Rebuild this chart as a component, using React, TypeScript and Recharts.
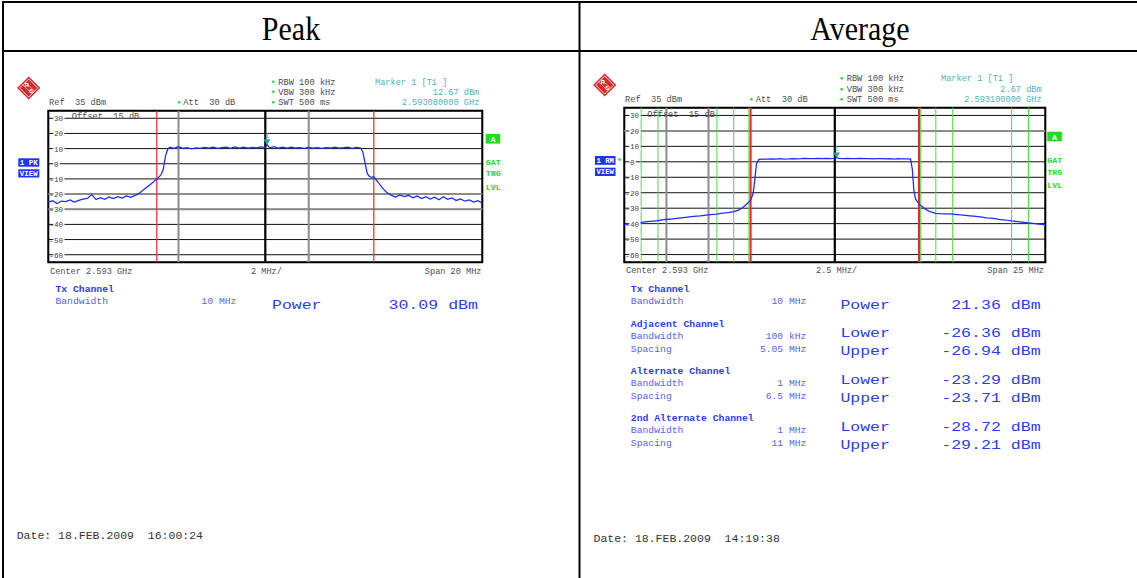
import {
  LineChart,
  Line,
  XAxis,
  YAxis,
  CartesianGrid,
  ReferenceLine,
  ReferenceArea,
  ReferenceDot
} from 'recharts'

// Peak trace: offset from 2.593 GHz in MHz, level in dBm
const peakFreq = [
  -10, -9.8, -9.6, -9.4, -9.2, -9, -8.8, -8.6, -8.4, -8.2, -8, -7.8, -7.6, -7.4, -7.2, -7, -6.8, -6.6, -6.4, -6.2,
  -6, -5.8, -5.6, -5.4, -5.2, -5, -4.8, -4.7, -4.6, -4.5, -4.4, -4.2, -4, -3.8, -3.6, -3.4, -3.2, -3, -2.8, -2.6,
  -2.4, -2.2, -2, -1.8, -1.6, -1.4, -1.2, -1, -0.8, -0.6, -0.4, -0.2, 0, 0.08, 0.2, 0.4, 0.6, 0.8, 1, 1.2,
  1.4, 1.6, 1.8, 2, 2.2, 2.4, 2.6, 2.8, 3, 3.2, 3.4, 3.6, 3.8, 4, 4.2, 4.4, 4.5, 4.6, 4.7, 4.8,
  4.9, 5, 5.2, 5.4, 5.6, 5.8, 6, 6.2, 6.4, 6.6, 6.8, 7, 7.2, 7.4, 7.6, 7.8, 8, 8.2, 8.4, 8.6,
  8.8, 9, 9.2, 9.4, 9.6, 9.8, 10
]
const peakLevel = [
  -25.3, -24.4, -26.2, -24.6, -25.0, -23.9, -25.2, -24.1, -23.3, -22.9, -20.3, -23.6, -22.3, -23.4, -21.9, -23.0, -21.7, -22.6, -21.2, -22.1,
  -20.9, -19.4, -17.0, -14.8, -12.6, -10.1, -7.2, -3.5, 5.0, 9.6, 10.9, 10.1, 11.3, 10.2, 10.7, 9.9, 10.5, 10.1, 10.8, 10.3,
  11.0, 10.2, 10.6, 10.9, 10.1, 11.1, 10.4, 11.0, 10.3, 10.8, 10.5, 11.2, 10.7, 12.67, 10.5, 11.3, 10.4, 10.9, 10.3, 11.0,
  10.4, 10.7, 10.2, 10.8, 10.3, 10.6, 10.1, 10.7, 10.4, 10.9, 10.3, 10.6, 11.0, 10.2, 10.8, 10.4, 7.5, 0.5, -6.5, -8.4,
  -8.9, -8.6, -12.2, -16.1, -19.0, -20.7, -21.9, -20.5, -21.7, -20.8, -22.4, -21.3, -23.0, -21.7, -23.3, -22.0, -23.7, -21.8, -23.5, -22.5,
  -24.2, -23.2, -24.7, -23.9, -25.3, -24.4, -26.1
]

// RMS average trace
const avgFreq = [
  -12.5, -12.25, -12, -11.75, -11.5, -11.25, -11, -10.75, -10.5, -10.25, -10, -9.75, -9.5, -9.25, -9, -8.75, -8.5, -8.25, -8, -7.75,
  -7.5, -7.25, -7, -6.75, -6.5, -6.25, -6, -5.75, -5.5, -5.25, -5, -4.85, -4.75, -4.65, -4.5, -4.25, -4, -3.75, -3.5, -3.25,
  -3, -2.75, -2.5, -2.25, -2, -1.75, -1.5, -1.25, -1, -0.75, -0.5, -0.25, 0, 0.1, 0.25, 0.5, 0.75, 1, 1.25, 1.5,
  1.75, 2, 2.25, 2.5, 2.75, 3, 3.25, 3.5, 3.75, 4, 4.25, 4.5, 4.6, 4.7, 4.8, 5, 5.25, 5.5, 5.75, 6,
  6.25, 6.5, 6.75, 7, 7.25, 7.5, 7.75, 8, 8.25, 8.5, 8.75, 9, 9.25, 9.5, 9.75, 10, 10.25, 10.5, 10.75, 11,
  11.25, 11.5, 11.75, 12, 12.25, 12.5
]
const avgLevel = [
  -40.6, -40.2, -39.9, -39.6, -39.2, -38.9, -38.6, -38.3, -38.0, -37.6, -37.3, -37.0, -36.7, -36.4, -36.1, -35.8, -35.5, -35.2, -35.0, -34.6,
  -34.3, -34.0, -33.8, -33.4, -33.1, -32.7, -32.2, -31.4, -29.9, -27.6, -24.8, -20.5, -11.5, -1.2, 1.6, 1.8, 1.7, 1.9, 1.8, 2.0,
  1.8, 1.9, 2.1, 1.9, 2.0, 2.2, 2.0, 2.1, 2.2, 2.0, 2.2, 2.1, 2.3, 2.67, 2.2, 2.0, 2.2, 2.1, 2.0, 2.2,
  2.0, 2.1, 1.9, 2.1, 2.0, 1.9, 2.0, 1.8, 2.0, 1.9, 1.9, 1.7, -4.5, -19.0, -24.2, -27.2, -29.6, -31.4, -32.6, -33.3,
  -33.5, -33.6, -33.7, -33.9, -34.1, -34.4, -34.6, -34.9, -35.2, -35.5, -35.8, -36.2, -36.5, -36.8, -37.2, -37.5, -37.8, -38.2, -38.5, -38.8,
  -39.2, -39.5, -39.8, -40.1, -40.4, -40.7
]

const levelTicks = [30, 20, 10, 0, -10, -20, -30, -40, -50, -60]
const peakFreqTicks = [-10, -8, -6, -4, -2, 0, 2, 4, 6, 8, 10]
const avgFreqTicks = [-12.5, -10, -7.5, -5, -2.5, 0, 2.5, 5, 7.5, 10, 12.5]

// Tx channel limits and ACP channel limits (MHz)
const peakTxEdges = [-5, 5]
const avgTxEdges = [-5, 5]
const avgAcpEdges = [-11.5, -10.5, -7, -6, -5.1, 5.1, 6, 7, 10.5, 11.5]

// grid lines that come out grey on the printout
const peakSoftX = [-4, 2]
const peakSoftY = [-20, -30]
const avgSoftX = [-10, -7.5]
const avgSoftY = [20]

const peakMarker = { freq: 0.08, level: 12.67 }
const avgMarker = { freq: 0.1, level: 2.67 }

type Block = { title: string; params: string[][]; values: string[][] }

const peakResults: Block[] = [
  { title: 'Tx Channel', params: [['Bandwidth', '10 MHz']], values: [['Power', '30.09 dBm']] }
]
const avgResults: Block[] = [
  { title: 'Tx Channel', params: [['Bandwidth', '10 MHz']], values: [['Power', '21.36 dBm']] },
  {
    title: 'Adjacent Channel',
    params: [['Bandwidth', '100 kHz'], ['Spacing', '5.05 MHz']],
    values: [['Lower', '-26.36 dBm'], ['Upper', '-26.94 dBm']]
  },
  {
    title: 'Alternate Channel',
    params: [['Bandwidth', '1 MHz'], ['Spacing', '6.5 MHz']],
    values: [['Lower', '-23.29 dBm'], ['Upper', '-23.71 dBm']]
  },
  {
    title: '2nd Alternate Channel',
    params: [['Bandwidth', '1 MHz'], ['Spacing', '11 MHz']],
    values: [['Lower', '-28.72 dBm'], ['Upper', '-29.21 dBm']]
  }
]
const blockTops = [289.3, 324.3, 371.3, 418.3]

const MONO = "'Liberation Mono', 'DejaVu Sans Mono', monospace"
const GREY = '#4d4d4d'
const TEAL = '#4fb3b5'
const GREEN = '#27d827'
const BLUE = '#2b3cf2'
const TRACE = '#1a2aff'

type MonoProps = {
  x: number
  y: number
  s: string
  cw: number
  size?: number
  fill?: string
  bold?: boolean
  end?: boolean
}

function Mono({ x, y, s, cw, size = 8.5, fill = GREY, bold = false, end = false }: MonoProps) {
  const len = s.length * cw
  return (
    <text
      x={end ? x - len : x}
      y={y}
      fontFamily={MONO}
      fontSize={size}
      fill={fill}
      fontWeight={bold ? 700 : 400}
      textLength={len}
      lengthAdjust="spacingAndGlyphs"
      style={{ whiteSpace: 'pre' }}
    >
      {s}
    </text>
  )
}

function RsLogo({ cx, cy }: { cx: number; cy: number }) {
  return (
    <g>
      <g transform={`translate(${cx},${cy}) rotate(45)`}>
        <rect x={-8.2} y={-8.2} width={16.4} height={16.4} fill="#d9262c" />
        <rect x={-6.4} y={-6.4} width={12.8} height={12.8} fill="none" stroke="#fff" strokeWidth={0.8} />
        <line x1={-6.4} y1={-1.8} x2={6.4} y2={-1.8} stroke="#fff" strokeWidth={0.6} />
        <line x1={-6.4} y1={1.8} x2={6.4} y2={1.8} stroke="#fff" strokeWidth={0.6} />
      </g>
      <text x={cx - 4} y={cy - 1} fontSize={6} fontWeight={700} fill="#fff" fontFamily="Liberation Sans">R</text>
      <text x={cx + 0.5} y={cy + 5} fontSize={6} fontWeight={700} fill="#fff" fontFamily="Liberation Sans">S</text>
    </g>
  )
}

function BlueTag({ x, y, w, h, s }: { x: number; y: number; w: number; h: number; s: string }) {
  return (
    <g>
      <rect x={x} y={y} width={w} height={h} fill="#1f33f5" />
      <Mono x={x + 1.5} y={y + h - 1.8} s={s} cw={(w - 3) / s.length} size={7.5} fill="#fff" bold />
    </g>
  )
}

function StatusColumn({ x, aTop, rows }: { x: number; aTop: number; rows: number[] }) {
  return (
    <g>
      <rect x={x} y={aTop} width={14.5} height={9.6} fill="#1fdc1f" />
      <Mono x={x + 4.8} y={aTop + 7.8} s="A" cw={5} size={8} fill="#fff" bold />
      {['GAT', 'TRG', 'LVL'].map((s, i) => (
        <Mono key={s} x={x} y={rows[i]} s={s} cw={5} size={7.5} fill={GREEN} bold />
      ))}
    </g>
  )
}

function Dot({ x, y }: { x: number; y: number }) {
  return <circle cx={x} cy={y} r={1.3} fill={GREEN} />
}

type PanelHead = {
  logo: [number, number]
  refX: number
  attX: number
  setX: number
  markerX: number
  markerEnd: number
  rows: number[]
  markerLevel: string
  markerFreq: string
  offsetX: number
  offsetY: number
}

function Header({ h }: { h: PanelHead }) {
  const [r0, r1, r2] = h.rows
  return (
    <g>
      <RsLogo cx={h.logo[0]} cy={h.logo[1]} />
      <Mono x={h.refX} y={r2} s="Ref  35 dBm" cw={5.2} />
      <Dot x={h.attX - 4.2} y={r2 - 3} />
      <Mono x={h.attX} y={r2} s="Att  30 dB" cw={5.2} />
      <Dot x={h.setX - 5} y={r0 - 3} />
      <Mono x={h.setX} y={r0} s="RBW 100 kHz" cw={5.2} />
      <Dot x={h.setX - 5} y={r1 - 3} />
      <Mono x={h.setX} y={r1} s="VBW 300 kHz" cw={5.2} />
      <Dot x={h.setX - 5} y={r2 - 3} />
      <Mono x={h.setX} y={r2} s="SWT 500 ms" cw={5.2} />
      <Mono x={h.markerX} y={r0} s="Marker 1 [T1 ]" cw={5.17} fill={TEAL} />
      <Mono x={h.markerEnd} y={r1} s={h.markerLevel} cw={5.17} fill={TEAL} end />
      <Mono x={h.markerEnd} y={r2} s={h.markerFreq} cw={5.17} fill={TEAL} end />
      <Mono x={h.offsetX} y={h.offsetY} s="Offset  15 dB" cw={5.2} />
    </g>
  )
}

function Results({ blocks, labelX, paramEnd, nameX, valueEnd }: {
  blocks: Block[]
  labelX: number
  paramEnd: number
  nameX: number
  valueEnd: number
}) {
  return (
    <g>
      {blocks.map((b, i) => {
        const top = blockTops[i]
        const valueRows = b.values.length === 1 ? [14.7] : [8, 26]
        return (
          <g key={b.title}>
            <Mono x={labelX} y={top + 2.8} s={b.title} cw={5.85} size={8.5} fill={BLUE} bold />
            {b.params.map(([k, v], j) => (
              <g key={k}>
                <Mono x={labelX} y={top + 15 + j * 12.4} s={k} cw={5.85} size={8.5} fill="#5464f2" />
                <Mono x={paramEnd} y={top + 15 + j * 12.4} s={v} cw={5.8} size={8.5} fill="#5464f2" end />
              </g>
            ))}
            {b.values.map(([k, v], j) => (
              <g key={k}>
                <Mono x={nameX} y={top + valueRows[j] + 4.5} s={k} cw={9.9} size={13} fill={BLUE} />
                <Mono x={valueEnd} y={top + valueRows[j] + 4.5} s={v} cw={9.95} size={13} fill={BLUE} end />
              </g>
            ))}
          </g>
        )
      })}
    </g>
  )
}

type TickProps = { y?: number | string; payload?: { value: number } }

// level labels sit inside the graticule, knocking out the grid line behind them
function levelTick(plotLeft: number) {
  return function LevelTick(props: TickProps) {
    const v = props.payload?.value ?? 0
    const y = Number(props.y ?? 0)
    const digits = String(Math.abs(v))
    const dx = plotLeft + 5.6
    const s = String(v)
    const x0 = v < 0 ? dx - 4.6 : dx
    return (
      <g>
        <rect x={dx - 0.6} y={y - 4} width={digits.length * 4.6 + 2} height={8} fill="#fff" />
        <Mono x={x0} y={y + 3} s={s} cw={4.6} size={8} fill="#444" />
      </g>
    )
  }
}

function markerShape(props: { cx?: number; cy?: number }) {
  const cx = props.cx ?? 0
  const cy = props.cy ?? 0
  return (
    <g>
      <path d={`M${cx - 3.6},${cy - 5.2} L${cx + 3.6},${cy - 5.2} L${cx},${cy} Z`} fill="#2b9ea4" />
      <text x={cx} y={cy - 6.5} fontSize={7} textAnchor="middle" fill={TEAL} fontFamily={MONO}>
        1
      </text>
    </g>
  )
}

type ScreenProps = {
  left: number
  width: number
  plot: { left: number; right: number; top: number; bottom: number }
  freq: number[]
  level: number[]
  span: number
  freqTicks: number[]
  txEdges: number[]
  txWidth: number
  acpEdges: number[]
  softX: number[]
  softY: number[]
  marker: { freq: number; level: number }
}

const CHART_H = 300

function Screen(p: ScreenProps) {
  const data = p.freq.map((f, i) => ({ f, level: p.level[i] }))
  const margin = {
    top: p.plot.top,
    left: p.plot.left - p.left,
    right: p.left + p.width - p.plot.right,
    bottom: CHART_H - p.plot.bottom
  }
  return (
    <div style={{ position: 'absolute', left: p.left, top: 0 }}>
      <LineChart width={p.width} height={CHART_H} data={data} margin={margin}>
        <CartesianGrid stroke="#111" strokeWidth={1} />
        <XAxis
          type="number"
          dataKey="f"
          domain={[-p.span, p.span]}
          ticks={p.freqTicks}
          height={0}
          tick={false}
          axisLine={false}
          tickLine={false}
        />
        {p.softX.map((f) => (
          <ReferenceLine key={`sx${f}`} x={f} stroke="#8c8c8c" strokeWidth={2} />
        ))}
        {p.softY.map((l) => (
          <ReferenceLine key={`sy${l}`} y={l} stroke="#8c8c8c" strokeWidth={2} />
        ))}
        {p.acpEdges.map((f) => (
          <ReferenceLine key={`acp${f}`} x={f} stroke="#3ee03e" strokeWidth={1} />
        ))}
        <ReferenceLine x={0} stroke="#000" strokeWidth={2.2} />
        {p.txEdges.map((f) => (
          <ReferenceLine key={`tx${f}`} x={f} stroke="#f0262a" strokeWidth={p.txWidth} />
        ))}
        <YAxis
          type="number"
          domain={[-65, 35]}
          ticks={levelTicks}
          interval={0}
          width={30}
          mirror
          axisLine={false}
          tickLine={false}
          tick={levelTick(margin.left)}
        />
        <Line
          type="linear"
          dataKey="level"
          stroke={TRACE}
          strokeWidth={1.25}
          dot={false}
          isAnimationActive={false}
        />
        <ReferenceArea
          x1={-p.span}
          x2={p.span}
          y1={-65}
          y2={35}
          fill="none"
          fillOpacity={0}
          stroke="#000"
          strokeWidth={2}
        />
        <ReferenceDot x={p.marker.freq} y={p.marker.level} r={3} shape={markerShape} />
      </LineChart>
    </div>
  )
}

export default function App() {
  return (
    <div
      style={{
        position: 'absolute',
        left: 0,
        top: 0,
        width: 1137,
        height: 578,
        background: '#fff',
        overflow: 'hidden'
      }}
    >
      <Screen
        left={0}
        width={580}
        plot={{ left: 48.3, right: 482.3, top: 110.7, bottom: 262.3 }}
        freq={peakFreq}
        level={peakLevel}
        span={10}
        freqTicks={peakFreqTicks}
        txEdges={peakTxEdges}
        txWidth={1.2}
        acpEdges={[]}
        softX={peakSoftX}
        softY={peakSoftY}
        marker={peakMarker}
      />
      <Screen
        left={580}
        width={557}
        plot={{ left: 624.3, right: 1045.3, top: 107.7, bottom: 262.3 }}
        freq={avgFreq}
        level={avgLevel}
        span={12.5}
        freqTicks={avgFreqTicks}
        txEdges={avgTxEdges}
        txWidth={2}
        acpEdges={avgAcpEdges}
        softX={avgSoftX}
        softY={avgSoftY}
        marker={avgMarker}
      />
      <svg
        width={1137}
        height={578}
        style={{ position: 'absolute', left: 0, top: 0, pointerEvents: 'none' }}
      >
        {/* table frame */}
        <rect x={2} y={1} width={1135} height={2} fill="#000" />
        <rect x={2} y={1} width={2} height={577} fill="#000" />
        <rect x={578.5} y={1} width={2} height={577} fill="#000" />
        <rect x={2} y={50} width={1135} height={2} fill="#000" />
        <text
          transform="translate(291,39.5) scale(1,1.12)"
          textAnchor="middle"
          fontFamily="'Liberation Serif', serif"
          fontSize={30}
          fill="#000"
        >
          Peak
        </text>
        <text
          transform="translate(860,39.5) scale(1,1.12)"
          textAnchor="middle"
          fontFamily="'Liberation Serif', serif"
          fontSize={30}
          fill="#000"
        >
          Average
        </text>

        {/* peak screen */}
        <Header
          h={{
            logo: [28.7, 88],
            refX: 49,
            attX: 183.3,
            setX: 278.3,
            markerX: 375,
            markerEnd: 479.3,
            rows: [84.7, 94.7, 105.3],
            markerLevel: '12.67 dBm',
            markerFreq: '2.593080000 GHz',
            offsetX: 71.7,
            offsetY: 118.7
          }}
        />
        <BlueTag x={18.3} y={158.3} w={21} h={8.4} s="1 PK" />
        <BlueTag x={18.3} y={169.3} w={21} h={8.2} s="VIEW" />
        <StatusColumn x={485.7} aTop={134} rows={[165.3, 176.3, 189.7]} />
        <Mono x={50} y={273.7} s="Center 2.593 GHz" cw={5.15} />
        <Mono x={251} y={273.7} s="2 MHz/" cw={5.15} />
        <Mono x={481.5} y={273.7} s="Span 20 MHz" cw={5.15} end />
        <Results blocks={peakResults} labelX={55.4} paramEnd={236.4} nameX={272} valueEnd={478} />
        <Mono x={16.7} y={539} s="Date: 18.FEB.2009  16:00:24" cw={6.9} size={11} fill="#333" />

        {/* average screen */}
        <Header
          h={{
            logo: [604.7, 85],
            refX: 625,
            attX: 755.7,
            setX: 846.7,
            markerX: 941,
            markerEnd: 1041.7,
            rows: [81.3, 92.3, 102.3],
            markerLevel: '2.67 dBm',
            markerFreq: '2.593100000 GHz',
            offsetX: 647.3,
            offsetY: 117
          }}
        />
        <BlueTag x={595} y={156} w={20.5} h={8.8} s="1 RM" />
        <BlueTag x={595} y={167.7} w={20.5} h={8.3} s="VIEW" />
        <Dot x={619.6} y={159.6} />
        <StatusColumn x={1047.3} aTop={131.7} rows={[163, 174.7, 188]} />
        <Mono x={626} y={273} s="Center 2.593 GHz" cw={5.15} />
        <Mono x={816} y={273} s="2.5 MHz/" cw={5.15} />
        <Mono x={1044} y={273} s="Span 25 MHz" cw={5.15} end />
        <Results blocks={avgResults} labelX={630.8} paramEnd={806.3} nameX={840.4} valueEnd={1040.7} />
        <Mono x={593.5} y={542} s="Date: 18.FEB.2009  14:19:38" cw={6.9} size={11} fill="#333" />
      </svg>
    </div>
  )
}
